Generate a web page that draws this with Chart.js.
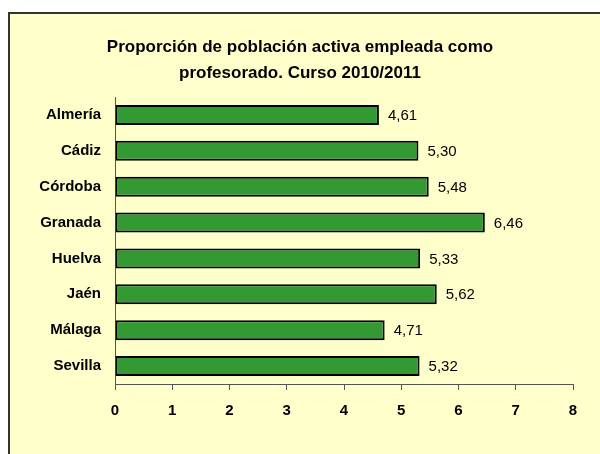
<!DOCTYPE html>
<html>
<head>
<meta charset="utf-8">
<script src="https://cdn.jsdelivr.net/npm/chart.js@4"></script>
<style>
  html, body { margin: 0; padding: 0; background: #fff; }
  #wrap { width: 600px; height: 454px; }
</style>
</head>
<body>
<div id="wrap"><canvas id="chartProv"></canvas></div>
<script>
// Datos del grafico
const provincias = ["Almería", "Cádiz", "Córdoba", "Granada", "Huelva", "Jaén", "Málaga", "Sevilla"];
const proporcion = [4.61, 5.30, 5.48, 6.46, 5.33, 5.62, 4.71, 5.32];
const tituloLineas = ["Proporción de población activa empleada como", "profesorado. Curso 2010/2011"];
const ejeMin = 0, ejeMax = 8, ejePaso = 1;

const FONT = "'Liberation Sans', Arial, sans-serif";
const fmtES = (n) => n.toFixed(2).replace(".", ",");

//Fondo amarillo con marco
const marco = {
  id: "marco",
  beforeDraw(chart) {
    const { ctx, width, height } = chart;
    ctx.save();
    ctx.fillStyle = "#ffffff";
    ctx.fillRect(0, 0, width, height);
    ctx.fillStyle = "#ffffcc";
    ctx.fillRect(8, 12, width, height);
    ctx.strokeStyle = "#333333";
    ctx.lineWidth = 2;
    ctx.beginPath();
    ctx.moveTo(width + 2, 13);
    ctx.lineTo(9, 13);
    ctx.lineTo(9, height + 2);
    ctx.stroke();
    ctx.restore();
  }
};

//Etiquetas de valor al final de cada barra
const etiquetas = {
  id: "etiquetas",
  afterDatasetsDraw(chart) {
    const { ctx } = chart;
    const meta = chart.getDatasetMeta(0);
    ctx.save();
    ctx.font = "15px " + FONT;
    ctx.fillStyle = "#000";
    ctx.textAlign = "left";
    ctx.textBaseline = "middle";
    meta.data.forEach((bar, i) => {
      ctx.fillText(fmtES(proporcion[i]), bar.x + 9, bar.y + 1);
    });
    ctx.restore();
  }
};

const ctx = document.getElementById("chartProv").getContext("2d");
new Chart(ctx, {
  type: "bar",
  data: {
    labels: provincias,
    datasets: [{
      data: proporcion,
      backgroundColor: "#339933",
      borderColor: "#000000",
      borderWidth: 2,
      borderSkipped: false,
      barPercentage: 0.56,
      categoryPercentage: 1.0
    }]
  },
  options: {
    responsive: true,
    maintainAspectRatio: false,
    animation: false,
    indexAxis: "y",
    layout: { padding: 0 },
    scales: {
      x: {
        min: ejeMin,
        max: ejeMax,
        ticks: {
          stepSize: ejePaso,
          color: "#000",
          padding: 12,
          font: { family: FONT, size: 15, weight: "bold" }
        },
        grid: { display: true, drawOnChartArea: false, drawTicks: true, tickLength: 6, color: "#555" },
        border: { display: true, color: "#555", width: 1 },
        afterFit: (s) => { s.height = 70; s.paddingRight = 27; }
      },
      y: {
        ticks: {
          color: "#000",
          padding: 14,
          font: { family: FONT, size: 15, weight: "bold" }
        },
        grid: { display: false, drawTicks: false },
        border: { display: true, color: "#555", width: 1 },
        afterFit: (s) => { s.width = 115; }
      }
    },
    plugins: {
      legend: { display: false },
      tooltip: { enabled: false },
      title: {
        display: true,
        text: tituloLineas,
        color: "#000",
        font: { family: FONT, size: 17, weight: "bold", lineHeight: 1.53 },
        padding: { top: 34, bottom: 11 }
      }
    }
  },
  plugins: [marco, etiquetas]
});
</script>
</body>
</html>
